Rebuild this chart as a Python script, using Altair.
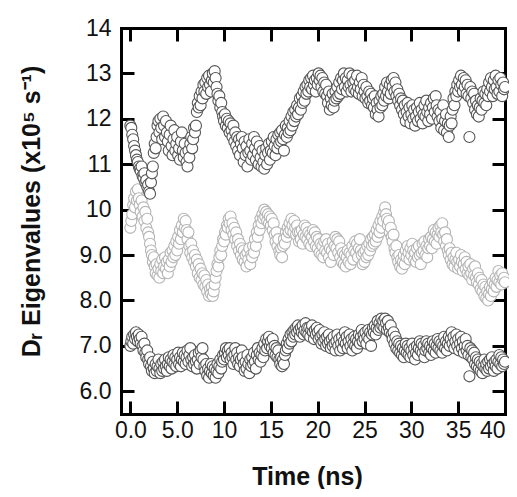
import altair as alt
import pandas as pd

# Sampling times (ns), one reading every 0.1 ns
time_ns = [round(i * 0.1, 1) for i in range(401)]

upper_vals = [
    11.85, 11.8, 11.65, 11.55, 11.4, 11.3, 11.2, 11.1, 11.05, 10.95,
    10.9, 10.85, 10.95, 10.75, 10.7, 10.8, 10.6, 10.65, 10.5, 10.55,
    10.4, 10.35, 10.6, 10.8, 10.95, 11.25, 11.45, 11.35, 11.6, 11.85,
    11.95, 11.7, 12.0, 11.8, 11.55, 12.05, 11.85, 11.6, 11.95, 11.7,
    11.5, 11.3, 11.65, 11.85, 11.4, 11.2, 11.55, 11.75, 11.3, 11.45,
    11.6, 11.2, 11.35, 11.1, 11.5, 11.7, 11.3, 11.15, 11.45, 11.25,
    11.05, 10.95, 11.3, 11.15, 11.45, 11.6, 11.35, 11.55, 11.8, 11.7,
    11.85, 12.15, 12.35, 12.25, 12.5, 12.3, 12.6, 12.45, 12.75, 12.6,
    12.8, 12.55, 12.9, 12.7, 12.95, 12.75, 12.6, 12.85, 13.0, 12.8,
    13.05, 12.9, 12.7, 12.55, 12.4, 12.5, 12.25, 12.35, 12.15, 12.05,
    11.95, 12.1, 11.85, 12.0, 11.8, 11.95, 11.7, 11.9, 11.75, 11.6,
    11.85, 11.5, 11.7, 11.4, 11.6, 11.3, 11.55, 11.2, 11.45, 11.6,
    11.35, 11.05, 11.5, 11.2, 11.4, 10.95, 11.25, 11.55, 11.3, 11.1,
    11.45, 11.2, 11.6, 11.35, 11.1, 11.5, 11.25, 11.0, 11.4, 11.15,
    10.95, 11.3, 11.05, 10.9, 11.2, 11.35, 11.0, 11.25, 11.45, 11.1,
    11.3, 11.5, 11.25, 11.6, 11.4, 11.2, 11.55, 11.35, 11.65, 11.45,
    11.7, 11.5, 11.75, 11.55, 11.3, 11.65, 11.85, 11.6, 11.8, 11.7,
    11.95, 11.75, 12.05, 11.85, 12.15, 11.95, 12.2, 12.05, 12.3, 12.1,
    12.25, 12.45, 12.2, 12.5, 12.35, 12.6, 12.4, 12.7, 12.55, 12.75,
    12.6, 12.85, 12.7, 12.9, 12.65, 12.95, 12.75, 12.85, 12.6, 12.9,
    12.75, 13.0, 12.85, 12.95, 12.7, 12.9, 12.6, 12.8, 12.55, 12.75,
    12.5, 12.35, 12.6, 12.2, 12.45, 12.3, 12.55, 12.25, 12.4, 12.6,
    12.45, 12.7, 12.5, 12.8, 12.55, 12.9, 12.65, 12.85, 13.0, 12.7,
    12.9, 12.6, 12.85, 12.7, 13.0, 12.75, 12.6, 12.95, 12.8, 12.65,
    12.85, 12.6, 12.95, 12.7, 12.55, 12.8, 12.65, 12.9, 12.5, 12.75,
    12.6, 12.45, 12.7, 12.5, 12.35, 12.6, 12.4, 12.55, 12.3, 12.45,
    12.25, 12.5, 12.1, 12.35, 12.2, 12.05, 12.4, 12.25, 12.5, 12.3,
    12.55, 12.4, 12.7, 12.5, 12.8, 12.6, 12.45, 12.75, 12.55, 12.85,
    12.7, 12.9, 12.6, 12.8, 12.5, 12.65, 12.4, 12.55, 12.3, 12.45,
    12.2, 12.4, 12.1, 12.3, 11.95, 12.15, 12.35, 12.05, 12.25, 11.9,
    12.1, 12.3, 12.0, 12.2, 11.85, 12.05, 12.25, 11.95, 12.15, 12.35,
    12.0, 12.2, 11.9, 12.1, 12.3, 12.05, 12.4, 12.15, 11.95, 12.25,
    12.1, 12.35, 12.0, 12.25, 12.45, 12.15, 12.5, 12.3, 12.05, 12.2,
    11.95, 12.15, 11.8, 12.0, 12.3, 11.75, 11.95, 12.1, 11.7, 11.9,
    11.6, 11.85, 12.05, 11.9, 12.2, 12.45, 12.3, 12.6, 12.5, 12.75,
    12.6, 12.85, 12.7, 12.95, 12.75, 12.6, 12.9, 12.7, 12.85, 12.55,
    12.75, 12.5, 11.6, 12.7, 12.45, 12.6, 12.35, 12.55, 12.2, 12.4,
    12.1, 12.3, 12.05, 12.25, 12.45, 12.2, 12.4, 12.6, 12.35, 12.55,
    12.3, 12.65, 12.5, 12.8, 12.6, 12.9, 12.7, 12.5, 12.85, 12.65,
    12.95, 12.7, 12.55, 12.85, 12.6, 12.9, 12.75, 12.5, 12.8, 12.65,
    12.7,
]

middle_vals = [
    9.6, 9.75, 9.9, 10.1, 10.25, 10.05, 10.4, 10.2, 10.45, 10.25,
    10.1, 9.95, 10.2, 9.85, 10.05, 9.75, 9.95, 9.6, 9.8, 9.5,
    9.4, 9.25, 9.1, 9.0, 8.85, 8.95, 8.75, 8.6, 8.8, 8.55,
    8.7, 8.5, 8.8, 8.65, 8.9, 8.6, 8.75, 8.95, 8.7, 8.85,
    8.6, 8.9, 8.75, 9.05, 8.85, 9.1, 8.95, 9.2, 9.0, 9.3,
    9.1, 9.4, 9.25, 9.55, 9.35, 9.65, 9.5, 9.8, 9.6, 9.75,
    9.55, 9.35, 9.5, 9.2, 9.05, 9.25, 8.95, 9.1, 8.85, 9.0,
    8.75, 8.9, 8.6, 8.8, 8.5, 8.7, 8.45, 8.6, 8.35, 8.55,
    8.3, 8.45, 8.2, 8.35, 8.1, 8.25, 8.15, 8.3, 8.1, 8.2,
    8.35, 8.5, 8.65, 8.8, 8.75, 8.95, 9.1, 9.0, 9.2, 9.35,
    9.3, 9.5, 9.45, 9.65, 9.6, 9.8, 9.7, 9.85, 9.55, 9.7,
    9.45, 9.6, 9.35, 9.5, 9.2, 9.35, 9.1, 9.25, 9.0, 9.15,
    8.9, 9.1, 8.85, 9.0, 8.75, 9.05, 8.9, 9.15, 8.8, 9.0,
    8.95, 9.2, 9.05, 9.35, 9.2, 9.5, 9.4, 9.65, 9.55, 9.8,
    9.7, 9.9, 9.8, 10.0, 9.85, 9.95, 9.75, 9.9, 9.7, 9.85,
    9.65, 9.8, 9.55, 9.7, 9.45, 9.3, 9.5, 9.2, 9.35, 9.1,
    9.0, 9.15, 8.95, 9.2, 9.35, 9.25, 9.5, 9.4, 9.6, 9.5,
    9.7, 9.55, 9.8, 9.65, 9.5, 9.75, 9.6, 9.45, 9.65, 9.5,
    9.3, 9.5, 9.35, 9.55, 9.25, 9.45, 9.65, 9.4, 9.6, 9.35,
    9.5, 9.25, 9.45, 9.2, 9.4, 9.55, 9.3, 9.5, 9.2, 9.4,
    9.15, 9.35, 9.05, 9.25, 9.0, 9.2, 8.95, 9.3, 9.1, 9.35,
    9.05, 9.25, 8.95, 9.15, 8.85, 9.1, 9.3, 9.0, 9.2, 9.4,
    9.15, 9.35, 9.05, 9.3, 8.95, 9.15, 8.85, 9.05, 8.8, 9.0,
    8.75, 8.95, 9.1, 8.85, 9.05, 8.8, 9.0, 9.2, 8.9, 9.1,
    9.3, 9.05, 9.25, 8.95, 9.15, 9.35, 9.1, 9.0, 8.8, 9.05,
    8.85, 9.1, 8.95, 9.2, 9.0, 9.25, 9.1, 9.35, 9.2, 9.4,
    9.25, 9.45, 9.3, 9.55, 9.4, 9.65, 9.5, 9.75, 9.6, 9.85,
    9.75, 9.95, 10.05, 9.9, 9.8, 9.65, 9.75, 9.5, 9.6, 9.4,
    9.3, 9.45, 9.15, 9.05, 9.2, 8.95, 8.85, 9.0, 8.75, 8.9,
    8.7, 8.85, 9.0, 8.8, 9.1, 8.95, 9.2, 9.05, 8.9, 9.15,
    9.0, 9.25, 9.1, 8.9, 9.05, 8.85, 9.15, 8.95, 9.2, 9.0,
    8.8, 9.05, 9.25, 9.1, 9.3, 9.0, 9.2, 8.95, 9.15, 9.35,
    9.2, 9.4, 9.15, 9.35, 9.55, 9.3, 9.5, 9.25, 9.45, 9.6,
    9.4, 9.65, 9.5, 9.7, 9.45, 9.3, 9.5, 9.2, 9.35, 9.1,
    9.0, 9.15, 8.9, 9.05, 8.8, 8.95, 8.75, 8.9, 9.05, 8.85,
    8.7, 8.9, 8.75, 9.0, 8.85, 8.65, 8.8, 8.95, 8.7, 8.85,
    8.6, 8.75, 8.55, 8.8, 8.6, 8.45, 8.7, 8.55, 8.75, 8.5,
    8.4, 8.6, 8.35, 8.5, 8.25, 8.45, 8.2, 8.35, 8.1, 8.3,
    8.05, 8.2, 8.0, 8.15, 8.3, 8.1, 8.25, 8.4, 8.2, 8.35,
    8.5, 8.3, 8.45, 8.65, 8.4, 8.55, 8.35, 8.6, 8.45, 8.5,
    8.4,
]

lower_vals = [
    7.0, 7.1, 7.2, 7.05, 7.25, 7.15, 7.3, 7.2, 7.1, 7.25,
    7.15, 7.05, 7.2, 7.0, 6.9, 7.05, 6.85, 6.75, 6.9, 6.7,
    6.6, 6.75, 6.55, 6.45, 6.65, 6.5, 6.4, 6.6, 6.45, 6.55,
    6.7, 6.5, 6.4, 6.6, 6.45, 6.65, 6.5, 6.7, 6.55, 6.45,
    6.6, 6.75, 6.55, 6.7, 6.5, 6.65, 6.8, 6.6, 6.75, 6.55,
    6.7, 6.85, 6.6, 6.75, 6.55, 6.7, 6.85, 6.65, 6.8, 6.6,
    6.75, 6.9, 6.65, 6.8, 6.95, 6.7, 6.55, 6.75, 6.6, 6.8,
    6.65, 6.5, 6.7, 6.85, 6.6, 6.9, 6.75, 6.95, 6.7, 6.55,
    6.45, 6.6, 6.35, 6.5, 6.3, 6.45, 6.6, 6.4, 6.55, 6.35,
    6.5, 6.3, 6.45, 6.6, 6.4, 6.55, 6.7, 6.5, 6.65, 6.8,
    6.7, 6.85, 6.95, 6.75, 6.9, 6.8, 6.95, 6.7, 6.85, 6.75,
    6.6, 6.8, 6.95, 6.7, 6.85, 6.6, 6.75, 6.55, 6.7, 6.9,
    6.75, 6.6, 6.45, 6.65, 6.5, 6.8, 6.6, 6.4, 6.7, 6.55,
    6.75, 6.6, 6.85, 6.65, 6.5, 6.8, 6.95, 6.7, 6.85, 6.65,
    6.8, 6.95, 6.75, 7.05, 6.9, 7.15, 6.95, 7.1, 7.2, 7.0,
    7.1, 6.95, 7.15, 6.85, 7.0, 6.8, 6.95, 6.75, 6.9, 6.7,
    6.6, 6.75, 6.55, 6.7, 6.6, 6.8, 6.9, 7.05, 6.95, 7.15,
    7.05, 7.25, 7.1, 7.3, 7.2, 7.35, 7.25, 7.4, 7.3, 7.45,
    7.35, 7.2, 7.4, 7.3, 7.45, 7.25, 7.35, 7.5, 7.3, 7.4,
    7.25, 7.4, 7.2, 7.35, 7.45, 7.3, 7.15, 7.35, 7.25, 7.4,
    7.3, 7.15, 7.35, 7.2, 7.05, 7.25, 7.1, 7.3, 7.15, 7.0,
    7.2, 7.05, 7.25, 7.1, 6.95, 7.15, 7.0, 7.2, 7.05, 6.9,
    7.1, 7.25, 7.0, 7.15, 6.9, 7.05, 7.2, 6.95, 7.1, 7.3,
    7.05, 7.2, 6.95, 7.1, 7.25, 7.0, 7.15, 6.9, 7.05, 7.2,
    7.0, 7.15, 6.95, 7.1, 7.25, 7.05, 7.2, 7.35, 7.1, 7.25,
    7.15, 7.3, 7.05, 7.2, 7.35, 7.15, 7.3, 7.0, 7.25, 7.4,
    7.3, 7.45, 7.25, 7.4, 7.55, 7.35, 7.5, 7.4, 7.6, 7.45,
    7.55, 7.4, 7.6, 7.5, 7.35, 7.55, 7.4, 7.3, 7.45, 7.25,
    7.15, 7.3, 7.05, 7.2, 6.95, 7.1, 6.9, 7.05, 6.85, 7.0,
    6.8, 6.95, 6.75, 6.9, 7.05, 6.85, 7.0, 6.8, 6.95, 6.75,
    6.9, 7.05, 6.8, 6.95, 6.7, 6.85, 7.0, 6.8, 6.95, 7.1,
    6.9, 7.05, 6.85, 7.0, 6.75, 6.9, 7.1, 6.95, 7.05, 6.85,
    7.0, 6.8, 6.95, 7.1, 6.9, 7.05, 6.85, 7.0, 7.15, 6.95,
    7.1, 6.9, 7.05, 6.85, 7.0, 7.2, 6.95, 7.1, 6.9, 7.05,
    7.2, 7.0, 7.15, 7.3, 7.05, 7.2, 6.95, 7.1, 7.25, 7.0,
    7.15, 6.9, 7.05, 7.2, 6.95, 7.1, 6.85, 7.0, 7.15, 6.9,
    7.0, 6.8, 6.33, 6.95, 6.75, 6.9, 6.7, 6.85, 6.6, 6.75,
    6.55, 6.7, 6.5, 6.65, 6.45, 6.6, 6.4, 6.55, 6.7, 6.5,
    6.6, 6.45, 6.65, 6.5, 6.7, 6.55, 6.75, 6.6, 6.45, 6.65,
    6.55, 6.7, 6.5, 6.65, 6.8, 6.6, 6.75, 6.55, 6.7, 6.6,
    6.65,
]

series_names = ["upper", "middle", "lower"]
series_colors = ["#555555", "#b4b4b4", "#555555"]

x_ticks = [0, 5, 10, 15, 20, 25, 30, 35, 40]
y_ticks = [6, 7, 8, 9, 10, 11, 12, 13, 14]

rows = []
for name, vals in zip(series_names, [upper_vals, middle_vals, lower_vals]):
    for t, v in zip(time_ns, vals):
        rows.append({"series": name, "t": t, "v": v})
df = pd.DataFrame(rows)

FONT = "Liberation Sans, Arial, Helvetica, sans-serif"
W, H = 384, 386

xscale = alt.Scale(domain=[-1, 40], nice=False, zero=False)
yscale = alt.Scale(domain=[5.5, 14], nice=False, zero=False)

label_expr = "datum.value < 10 ? format(datum.value, '.1f') : format(datum.value, 'd')"

base = alt.Chart(df)

points = base.mark_circle(
    size=122, fill="white", fillOpacity=1, opacity=1, strokeWidth=1.1
).encode(
    x=alt.X("t:Q", scale=xscale, axis=alt.Axis(
        values=x_ticks, labelExpr=label_expr, ticks=False, tickSize=0,
        domain=True, domainWidth=3, domainColor="black", domainCap="square",
        labelPadding=5, labelFontSize=23, labelFont=FONT, labelColor="#111111",
        title="Time (ns)", titleFont=FONT, titleFontSize=25, titleFontWeight="bold",
        titleColor="#111111", titleX=186, titleY=70, titleBaseline="alphabetic",
        titleAlign="center", grid=False, orient="bottom")),
    y=alt.Y("v:Q", scale=yscale, axis=alt.Axis(
        values=y_ticks, labelExpr=label_expr, ticks=False, tickSize=0,
        domain=True, domainWidth=3, domainColor="black", domainCap="square",
        labelPadding=10, labelFontSize=23, labelFont=FONT, labelColor="#111111",
        title="Dᵣ Eigenvalues (x10⁵ s⁻¹)", titleFont=FONT, titleFontSize=25,
        titleFontWeight="bold", titleColor="#111111", titleAngle=270,
        titleX=-90, titleY=183, titleAlign="center", titleBaseline="middle",
        grid=False, orient="left")),
    stroke=alt.Stroke("series:N", scale=alt.Scale(domain=series_names, range=series_colors), legend=None),
    order=alt.Order("t:Q"),
)

# inward ticks on the left and bottom edges
ticks_lb = base.mark_circle(opacity=0).encode(
    x=alt.X("t:Q", scale=xscale, axis=alt.Axis(
        values=x_ticks, orient="top", offset=-H, labels=False, domain=False,
        ticks=True, tickSize=13, tickWidth=3, tickColor="black", grid=False, title=None)),
    y=alt.Y("v:Q", scale=yscale, axis=alt.Axis(
        values=y_ticks, orient="right", offset=-W, labels=False, domain=False,
        ticks=True, tickSize=13, tickWidth=3, tickColor="black", grid=False, title=None)),
)

# inward ticks (and frame lines) on the right and top edges
ticks_rt = base.mark_circle(opacity=0).encode(
    x=alt.X("t:Q", scale=xscale, axis=alt.Axis(
        values=x_ticks, orient="bottom", offset=-H, labels=False, domain=True,
        domainWidth=3, domainColor="black", domainCap="square",
        ticks=True, tickSize=13, tickWidth=3, tickColor="black", grid=False, title=None)),
    y=alt.Y("v:Q", scale=yscale, axis=alt.Axis(
        values=y_ticks, orient="left", offset=-W, labels=False, domain=True,
        domainWidth=3, domainColor="black", domainCap="square",
        ticks=True, tickSize=13, tickWidth=3, tickColor="black", grid=False, title=None)),
)

chart = alt.layer(points, ticks_lb, ticks_rt).resolve_axis(
    x="independent", y="independent"
).properties(
    width=W, height=H,
    autosize=alt.AutoSizeParams(type="none"),
    padding={"left": 113, "top": 20, "right": 4, "bottom": 75},
    background="white",
).configure_view(strokeWidth=0)

chart.save("out.html", embed_options={"renderer": "svg", "actions": False})
